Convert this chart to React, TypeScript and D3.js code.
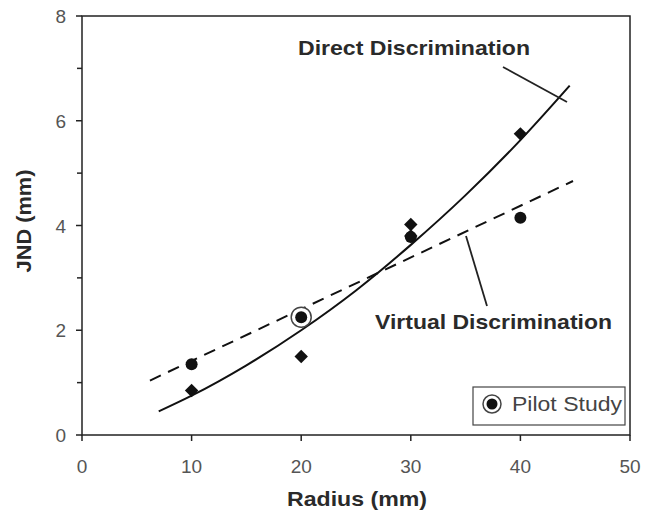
import React from "react";
import * as d3 from "d3";

const xTicks = [0, 10, 20, 30, 40, 50];
const yTicks = [0, 2, 4, 6, 8];
const yMinorTicks = [1, 3, 5, 7];

const directX = [10, 20, 30, 30, 40];
const directY = [0.85, 1.5, 4.02, 3.8, 5.75];

const virtualX = [10, 20, 30, 40];
const virtualY = [1.35, 2.25, 3.78, 4.15];

const pilotX = [20];
const pilotY = [2.25];

const directCurveX = [7, 10, 15, 20, 25, 30, 35, 40, 44.5];
const directCurveY = [0.45, 0.75, 1.33, 2.0, 2.76, 3.63, 4.58, 5.63, 6.67];

const virtualLineX = [6.2, 44.8];
const virtualLineY = [1.04, 4.85];

export default function App() {
  const W = 655, H = 513;
  const left = 82, right = 630, top = 16, bottom = 435;
  const x = d3.scaleLinear().domain([0, 50]).range([left, right]);
  const y = d3.scaleLinear().domain([0, 8]).range([bottom, top]);
  const font = "'Liberation Sans', Arial, sans-serif";
  const txt = "#2a2a2a";

  const line = d3.line<[number, number]>().x(d => x(d[0])).y(d => y(d[1]));
  const curveLine = d3.line<[number, number]>().x(d => x(d[0])).y(d => y(d[1])).curve(d3.curveMonotoneX);
  const directPts = directCurveX.map((v, i) => [v, directCurveY[i]] as [number, number]);
  const virtPts = virtualLineX.map((v, i) => [v, virtualLineY[i]] as [number, number]);
  const diamond = d3.symbol().type(d3.symbolDiamond2).size(115)();

  return (
    <svg width={W} height={H} style={{ position: "absolute", left: 0, top: 0 }}>
      <rect width={W} height={H} fill="#fff" />
      {/* frame */}
      <rect x={left} y={top} width={right - left} height={bottom - top} fill="none" stroke="#222" strokeWidth={1.5} />
      {/* x ticks */}
      {xTicks.map(t => (
        <g key={"x" + t}>
          <line x1={x(t)} x2={x(t)} y1={bottom} y2={bottom + 6} stroke="#222" strokeWidth={1.5} />
          <text x={x(t)} y={473} textAnchor="middle" fontFamily={font} fontSize={19} fill="#555">{t}</text>
        </g>
      ))}
      {/* y ticks */}
      {yTicks.map(t => (
        <g key={"y" + t}>
          <line x1={left - 6} x2={left} y1={y(t)} y2={y(t)} stroke="#222" strokeWidth={1.5} />
          <text x={left - 16} y={y(t) + 7} textAnchor="end" fontFamily={font} fontSize={19} fill="#555">{t}</text>
        </g>
      ))}
      {yMinorTicks.map(t => (
        <line key={"ym" + t} x1={left - 5} x2={left} y1={y(t)} y2={y(t)} stroke="#222" strokeWidth={1.5} />
      ))}
      {/* axis labels */}
      <text x={357} y={506} textAnchor="middle" fontFamily={font} fontWeight="bold" fontSize={21} textLength={140} lengthAdjust="spacingAndGlyphs" fill={txt}>Radius (mm)</text>
      <text transform={`translate(31, 221) rotate(-90)`} textAnchor="middle" fontFamily={font} fontWeight="bold" fontSize={21} textLength={103} lengthAdjust="spacingAndGlyphs" fill={txt}>JND (mm)</text>
      {/* fitted lines */}
      <path d={curveLine(directPts) || ""} fill="none" stroke="#111" strokeWidth={2} />
      <path d={line(virtPts) || ""} fill="none" stroke="#111" strokeWidth={2} strokeDasharray="12,8" />
      {/* pilot ring */}
      {pilotX.map((v, i) => (
        <circle key={"p" + i} cx={x(v)} cy={y(pilotY[i])} r={10} fill="#fff" stroke="#444" strokeWidth={1.5} />
      ))}
      {/* markers */}
      {virtualX.map((v, i) => (
        <circle key={"v" + i} cx={x(v)} cy={y(virtualY[i])} r={6} fill="#111" />
      ))}
      {directX.map((v, i) => (
        <path key={"d" + i} d={diamond || ""} transform={`translate(${x(v)},${y(directY[i])})`} fill="#111" />
      ))}
      {/* annotations */}
      <text x={298} y={55} fontFamily={font} fontWeight="bold" fontSize={21} textLength={232} lengthAdjust="spacingAndGlyphs" fill={txt}>Direct Discrimination</text>
      <line x1={503} y1={67} x2={567} y2={102} stroke="#222" strokeWidth={1.8} />
      <text x={375} y={329} fontFamily={font} fontWeight="bold" fontSize={21} textLength={237} lengthAdjust="spacingAndGlyphs" fill={txt}>Virtual Discrimination</text>
      <line x1={466} y1={236} x2={487} y2={306} stroke="#222" strokeWidth={1.8} />
      {/* legend */}
      <rect x={473} y={387} width={152} height={38} fill="#fff" stroke="#444" strokeWidth={1.2} />
      <circle cx={492} cy={404} r={9} fill="#fff" stroke="#444" strokeWidth={1.5} />
      <circle cx={492} cy={404} r={5.5} fill="#111" />
      <text x={512} y={411} fontFamily={font} fontSize={20} textLength={110} lengthAdjust="spacingAndGlyphs" fill="#444">Pilot Study</text>
    </svg>
  );
}
